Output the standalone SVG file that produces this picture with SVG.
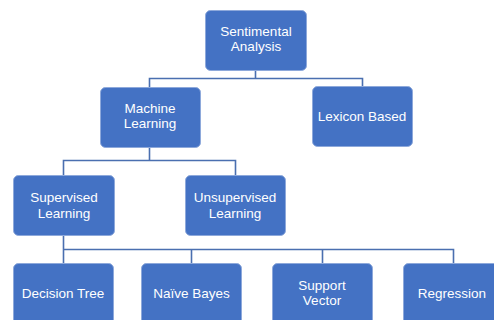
<svg xmlns="http://www.w3.org/2000/svg" width="494" height="320" viewBox="0 0 494 320">
<style>
.box{fill:#4472C4;stroke:#8EA9DB;stroke-width:1}
.t{font-family:"Liberation Sans",Arial,sans-serif;font-size:13.5px;fill:#fff;text-anchor:middle}
.c{fill:none;stroke:#4A6FB0;stroke-width:1.6}
</style>
<rect width="494" height="320" fill="#fff"/>
<g id="connectors">
<path class="c" d="M255.5,70V78.5M149.5,87V78.5H362.5V86"/>
<path class="c" d="M149.5,147V160.5M63.5,175V160.5H235.5V175"/>
<path class="c" d="M63.5,235V249.5M63.5,263V249.5H453.5V263M191.5,249.5V263M322.5,249.5V263"/>
</g>
<g id="n-root"><rect class="box" x="205.5" y="10.5" width="101" height="60" rx="5"/><text class="t" x="256" y="35.5">Sentimental</text><text class="t" x="256" y="51">Analysis</text></g>
<g id="n-ml"><rect class="box" x="100.5" y="87.5" width="100" height="60" rx="5"/><text class="t" x="150" y="112.5">Machine</text><text class="t" x="150" y="128">Learning</text></g>
<g id="n-lex"><rect class="box" x="312.5" y="86.5" width="100" height="60" rx="5"/><text class="t" x="362" y="120.5">Lexicon Based</text></g>
<g id="n-sup"><rect class="box" x="13.5" y="175.5" width="101" height="60" rx="5"/><text class="t" x="64" y="202">Supervised</text><text class="t" x="64" y="217.5">Learning</text></g>
<g id="n-unsup"><rect class="box" x="185.5" y="175.5" width="100" height="60" rx="5"/><text class="t" x="235" y="202">Unsupervised</text><text class="t" x="235" y="217.5">Learning</text></g>
<g id="n-dt"><rect class="box" x="13.5" y="263.5" width="100" height="62" rx="5"/><text class="t" x="63" y="297.5">Decision Tree</text></g>
<g id="n-nb"><rect class="box" x="141.5" y="263.5" width="100" height="62" rx="5"/><text class="t" x="191.5" y="297.5">Naïve Bayes</text></g>
<g id="n-sv"><rect class="box" x="272.5" y="263.5" width="100" height="62" rx="5"/><text class="t" x="322" y="289.5">Support</text><text class="t" x="322" y="305">Vector</text></g>
<g id="n-reg"><rect class="box" x="403.5" y="263.5" width="100" height="62" rx="5"/><text class="t" x="452" y="297.5">Regression</text></g>
</svg>
